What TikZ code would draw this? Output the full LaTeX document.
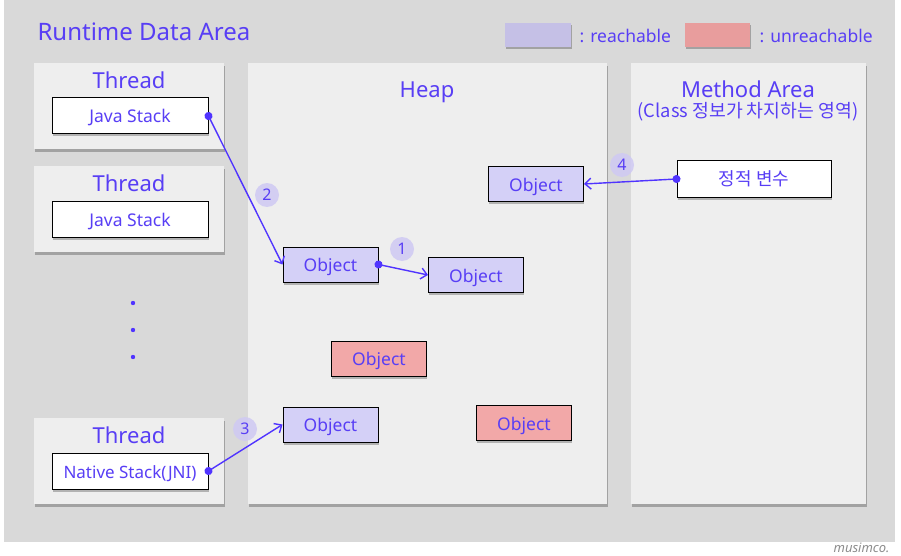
\documentclass[tikz,border=0pt]{standalone}
\usepackage{fontspec}
\setmainfont{Noto Sans}
\newfontfamily\krfont{Noto Sans CJK KR}
\usetikzlibrary{arrows.meta, positioning, shadows}

\definecolor{ink}{RGB}{88,62,245}
\definecolor{wire}{RGB}{80,52,255}
\definecolor{canvas}{RGB}{217,217,217}
\definecolor{panel}{RGB}{238,238,238}
\definecolor{reach}{RGB}{212,208,247}
\definecolor{unreach}{RGB}{242,168,168}
\definecolor{legreach}{RGB}{197,192,230}
\definecolor{legunreach}{RGB}{232,157,157}
\definecolor{badgefill}{RGB}{207,201,243}

\begin{document}
\begin{tikzpicture}[
    x=1pt, y=-1pt,
    softshadow/.style={drop shadow={shadow xshift=0.5pt, shadow yshift=-2.5pt, opacity=0.25, fill=black}},
    area/.style={rectangle, fill=panel, inner sep=0pt, anchor=north west, softshadow},
    title/.style={text=ink, font=\fontsize{22}{26}\selectfont, text height=16.5pt, text depth=0pt},
    stack/.style={rectangle, draw=black, fill=white, line width=1pt, text=ink, minimum width=156pt, minimum height=36pt, inner sep=0pt, text height=14pt, text depth=0pt, font=\fontsize{17.5}{20}\selectfont, softshadow},
    obj/.style={stack, fill=reach, minimum width=95pt, minimum height=35pt, font=\fontsize{17.5}{20}\selectfont},
    deadobj/.style={obj, fill=unreach},
    badge/.style={circle, fill=badgefill, fill opacity=0.85, text opacity=1, text=ink, minimum size=24pt, inner sep=0pt, font=\fontsize{16}{18}\selectfont},
    ref/.style={wire, line width=1.4pt, {Circle[length=8pt]}-{Straight Barb[length=6pt, width=11pt]}, shorten <=-4pt}
]
    \useasboundingbox (0,0) rectangle (901,556);

    % Runtime data area
    \node[rectangle, fill=canvas, inner sep=0pt, anchor=north west, minimum width=891pt, minimum height=539pt,
          drop shadow={shadow xshift=0pt, shadow yshift=-3pt, opacity=0.15, fill=black}] (rda) at (4,0) {};
    \node[text=ink, font=\fontsize{24}{28}\selectfont, text height=17pt, text depth=0pt, anchor=west] (rdatitle) at (34,32) {Runtime Data Area};

    % Legend
    \node[rectangle, fill=legreach, minimum width=66pt, minimum height=24pt, softshadow] (legA) at (538,35) {};
    \node[text=ink, font=\fontsize{17.5}{20}\selectfont, anchor=west] (legAtxt) at (576,36) {: reachable};
    \node[rectangle, fill=legunreach, minimum width=65pt, minimum height=24pt, softshadow] (legB) at (717.5,35) {};
    \node[text=ink, font=\fontsize{17.5}{20}\selectfont, anchor=west] (legBtxt) at (756,36) {: unreachable};

    % Threads
    \node[area, minimum width=190pt, minimum height=86pt] (thread1) at (34,63) {};
    \node[area, minimum width=190pt, minimum height=86pt] (thread2) at (34,166) {};
    \node[area, minimum width=190pt, minimum height=86pt] (thread3) at (34,418) {};
    \node[title] at (129,80) {Thread};
    \node[title] at (129,183) {Thread};
    \node[title] at (129,435) {Thread};
    \node[stack] (jstack1) at (130,116) {Java Stack};
    \node[stack] (jstack2) at (130,219) {Java Stack};
    \node[stack, font=\fontsize{17}{20}\selectfont] (nstack) at (130,471) {Native Stack(JNI)};
    \foreach \y in {303,330,357} \fill[wire] (133,\y) circle (2.2pt);

    % Heap
    \node[area, minimum width=359pt, minimum height=441pt] (heap) at (248,63) {};
    \node[title] at (427,89) {Heap};
    \node[obj] (objA) at (330.5,264.5) {Object};
    \node[obj] (objB) at (476,275) {Object};
    \node[obj] (objC) at (536,184) {Object};
    \node[obj] (objD) at (330.5,424.5) {Object};
    \node[deadobj] (dead1) at (379,358.5) {Object};
    \node[deadobj] (dead2) at (524,423) {Object};

    % Method area
    \node[area, minimum width=235pt, minimum height=441pt] (method) at (631,63) {};
    \node[title] at (748,89) {Method Area};
    \node[text=ink, font=\krfont\fontsize{18.3}{21}\selectfont] at (748,112) {(Class 정보가 차지하는 영역)};
    \node[stack, font=\krfont\fontsize{18}{21}\selectfont, text height=, text depth=, minimum width=154pt] (static) at (754,179) {정적 변수};

    % References
    \draw[ref] (jstack1.east) -- (objA.west);
    \draw[ref] (objA.east) -- (objB.west);
    \draw[ref] (nstack.east) -- (objD.west);
    \draw[ref] (static.west) -- (objC.east);

    \node[badge] (n1) at (402,249) {1};
    \node[badge] (n2) at (267,195) {2};
    \node[badge] (n3) at (245,429) {3};
    \node[badge] (n4) at (622,165) {4};

    \node[text=black!45, font=\itshape\fontsize{13}{15}\selectfont, anchor=east] (sign) at (893,548) {musimco.};
\end{tikzpicture}
\end{document}
